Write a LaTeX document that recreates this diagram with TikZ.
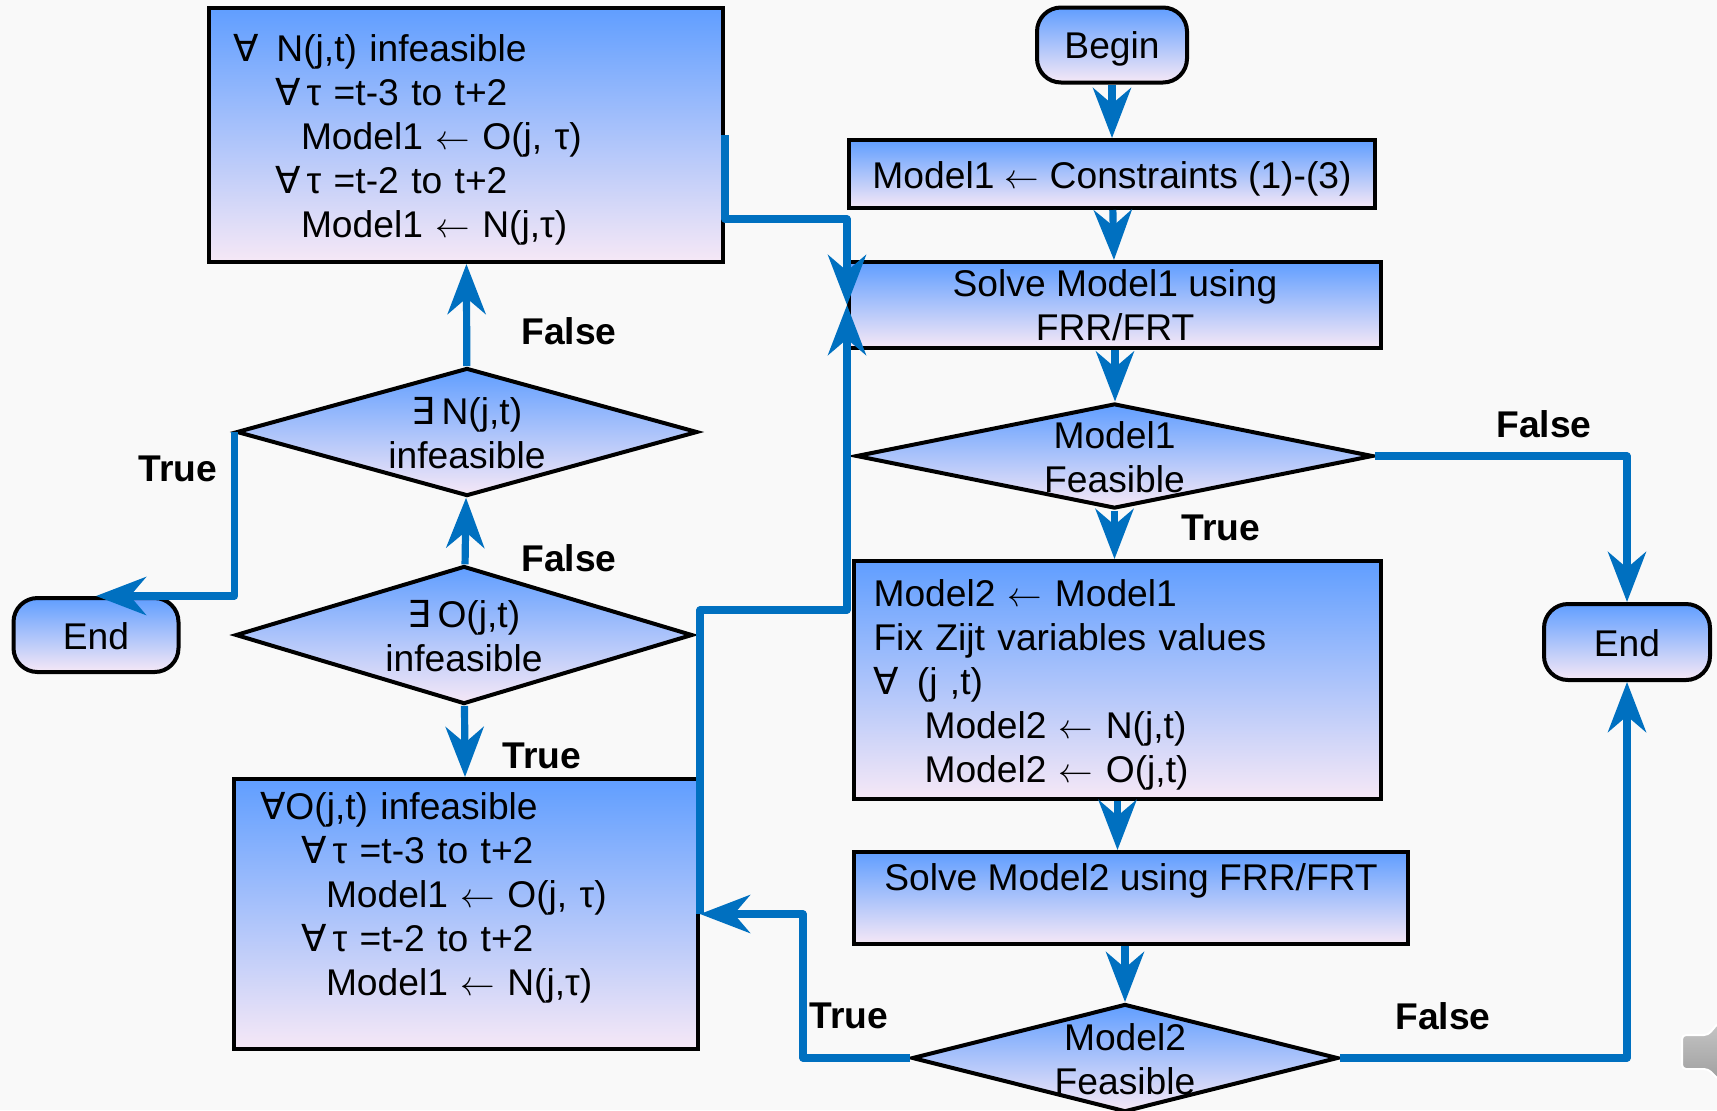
\documentclass[tikz,border=0pt]{standalone}
\usepackage{fontspec}
\setmainfont{Liberation Sans}
\newfontfamily\symfont{DejaVu Sans}
\usetikzlibrary{shapes.geometric,arrows.meta}

\definecolor{flow}{RGB}{0,112,192}
\definecolor{fillTop}{RGB}{96,158,255}
\definecolor{fillBot}{RGB}{246,232,246}
\definecolor{paper}{RGB}{249,249,249}

\newcommand{\all}{{\symfont ∀}}
\newcommand{\some}{{\symfont ∃}}
% text of a decision box: kept out of the shape size
\newcommand{\dtext}[2]{\smash{\raisebox{-7pt}{\makebox[0pt]{\begin{tabular}{@{}c@{}}#1\\#2\end{tabular}}}}}

\begin{document}
\begin{tikzpicture}[x=0.5pt,y=-0.5pt,
    font=\fontsize{18.6}{22}\selectfont,
    shadebox/.style={draw=black,line width=2pt,top color=fillTop,bottom color=fillBot},
    procbox/.style={shadebox,rectangle,inner ysep=0pt},
    termbox/.style={shadebox,rectangle,rounded corners=12pt,inner sep=0pt,
      text height=18pt,text depth=4pt},
    decbox/.style={shadebox,diamond,inner sep=0pt},
    flowline/.style={draw=flow,line width=3.6pt,line join=round,
      -{Stealth[length=25pt,width=19pt,inset=8pt]}},
    answer/.style={font=\fontsize{18.6}{22}\selectfont\bfseries}]
    \fill[paper] (0,0) rectangle (1717,1110);
    \useasboundingbox (0,0) rectangle (1717,1110);
    % speaker icon of the slide
    \fill[top color=gray!45,bottom color=gray!75,draw=white,line width=1pt,rounded corners=2pt]
      (1682,1035) -- (1708,1035) -- (1719,1022) -- (1719,1080) -- (1708,1069) -- (1682,1069) -- cycle;

    % right column
    \node[termbox,minimum width=75pt,minimum height=37.5pt,text height=17pt] (begin) at (1112,45) {Begin};
    \node[procbox,minimum width=263pt,minimum height=34pt,text height=18pt,text depth=4pt] (cons) at (1112,174)
      {Model1 $\leftarrow$ Constraints (1)-(3)};
    \node[procbox,minimum width=266pt,minimum height=43pt,align=center,
      text height=38pt,text depth=3pt] (solveA) at (1115,305)
      {Solve Model1 using\\FRR/FRT};
    \node[decbox,minimum width=258.5pt,minimum height=52.5pt] (feasA) at (1114.5,456)
      {\dtext{Model1}{Feasible}};
    \node[procbox,minimum width=263.5pt,minimum height=119pt,text width=244pt,
      inner xsep=9.75pt,align=left,text height=10pt,text depth=83.5pt] (fix) at (1117.5,680)
      {Model2 $\leftarrow$ Model1\\
       Fix Zijt variables values\\
       \all\hspace{9pt}(j ,t)\\
       \hspace*{25.5pt}Model2 $\leftarrow$ N(j,t)\\
       \hspace*{25.5pt}Model2 $\leftarrow$ O(j,t)};
    \node[procbox,minimum width=277pt,minimum height=46pt,align=center,
      text height=14pt,text depth=22pt] (solveB) at (1131,898)
      {Solve Model2 using FRR/FRT};
    \node[decbox,minimum width=213pt,minimum height=54pt] (feasB) at (1125,1058)
      {\dtext{Model2}{Feasible}};
    \node[termbox,minimum width=83pt,minimum height=38pt] (endR) at (1627,642) {End};

    % left column
    \node[procbox,minimum width=257pt,minimum height=127pt,text width=233pt,
      inner xsep=12pt,align=left,text height=10pt,text depth=84pt] (nfix) at (466,135)
      {\all\hspace{9pt}N(j,t) infeasible\\
       \hspace*{21pt}\all\,τ =t-3 to t+2\\
       \hspace*{34pt}Model1 $\leftarrow$ O(j, τ)\\
       \hspace*{21pt}\all\,τ =t-2 to t+2\\
       \hspace*{34pt}Model1 $\leftarrow$ N(j,τ)};
    \node[decbox,minimum width=230.5pt,minimum height=64pt] (ntest) at (467,432)
      {\dtext{\some\,N(j,t)}{infeasible}};
    \node[decbox,minimum width=228.5pt,minimum height=69pt] (otest) at (464,635)
      {\dtext{\some\,O(j,t)}{infeasible}};
    \node[procbox,minimum width=232pt,minimum height=135pt,text width=206pt,
      inner xsep=13pt,align=left,text height=10pt,text depth=105pt] (ofix) at (466,914)
      {\all O(j,t) infeasible\\
       \hspace*{20.5pt}\all\,τ =t-3 to t+2\\
       \hspace*{33pt}Model1 $\leftarrow$ O(j, τ)\\
       \hspace*{20.5pt}\all\,τ =t-2 to t+2\\
       \hspace*{33pt}Model1 $\leftarrow$ N(j,τ)};
    \node[termbox,minimum width=82.5pt,minimum height=37pt] (endL) at (96,635) {End};

    % answers
    \node[answer] (fA) at (1544,424) {False};
    \node[answer] (tA) at (1221,528) {True};
    \node[answer] (fB) at (1443,1016) {False};
    \node[answer] (tB) at (849,1016) {True};
    \node[answer] (fN) at (569,331) {False};
    \node[answer] (tN) at (178,469) {True};
    \node[answer] (fO) at (569,558) {False};
    \node[answer] (tO) at (542,756) {True};

    % flow
    \draw[flowline] (begin) -- (cons);
    \draw[flowline] (cons) -- (solveA);
    \draw[flowline] (solveA) -- (solveA.south |- feasA.north);
    \draw[flowline] (feasA.south) -- (feasA.south |- fix.north);
    \draw[flowline] (feasA.east) -| (endR.north);
    \draw[flowline] (fix.south) -- (fix.south |- solveB.north);
    \draw[flowline] (feasB.north |- solveB.south) -- (feasB.north);
    \draw[flowline] (feasB.east) -| (endR.south);
    \draw[flowline] (feasB.west) -- ++(-107,0) |- (ofix.east);
    \draw[flowline] (ofix.east) -- (ofix.east |- 0,610) -| (solveA.west);
    \draw[flowline] (nfix.east) -- ++(0,84) -| (solveA.west);
    \draw[flowline] (otest) -- (ntest);
    \draw[flowline] (ntest) -- (nfix);
    \draw[flowline] (ntest.west) |- (endL.north);
    \draw[flowline] (otest) -- (ofix);
\end{tikzpicture}
\end{document}
